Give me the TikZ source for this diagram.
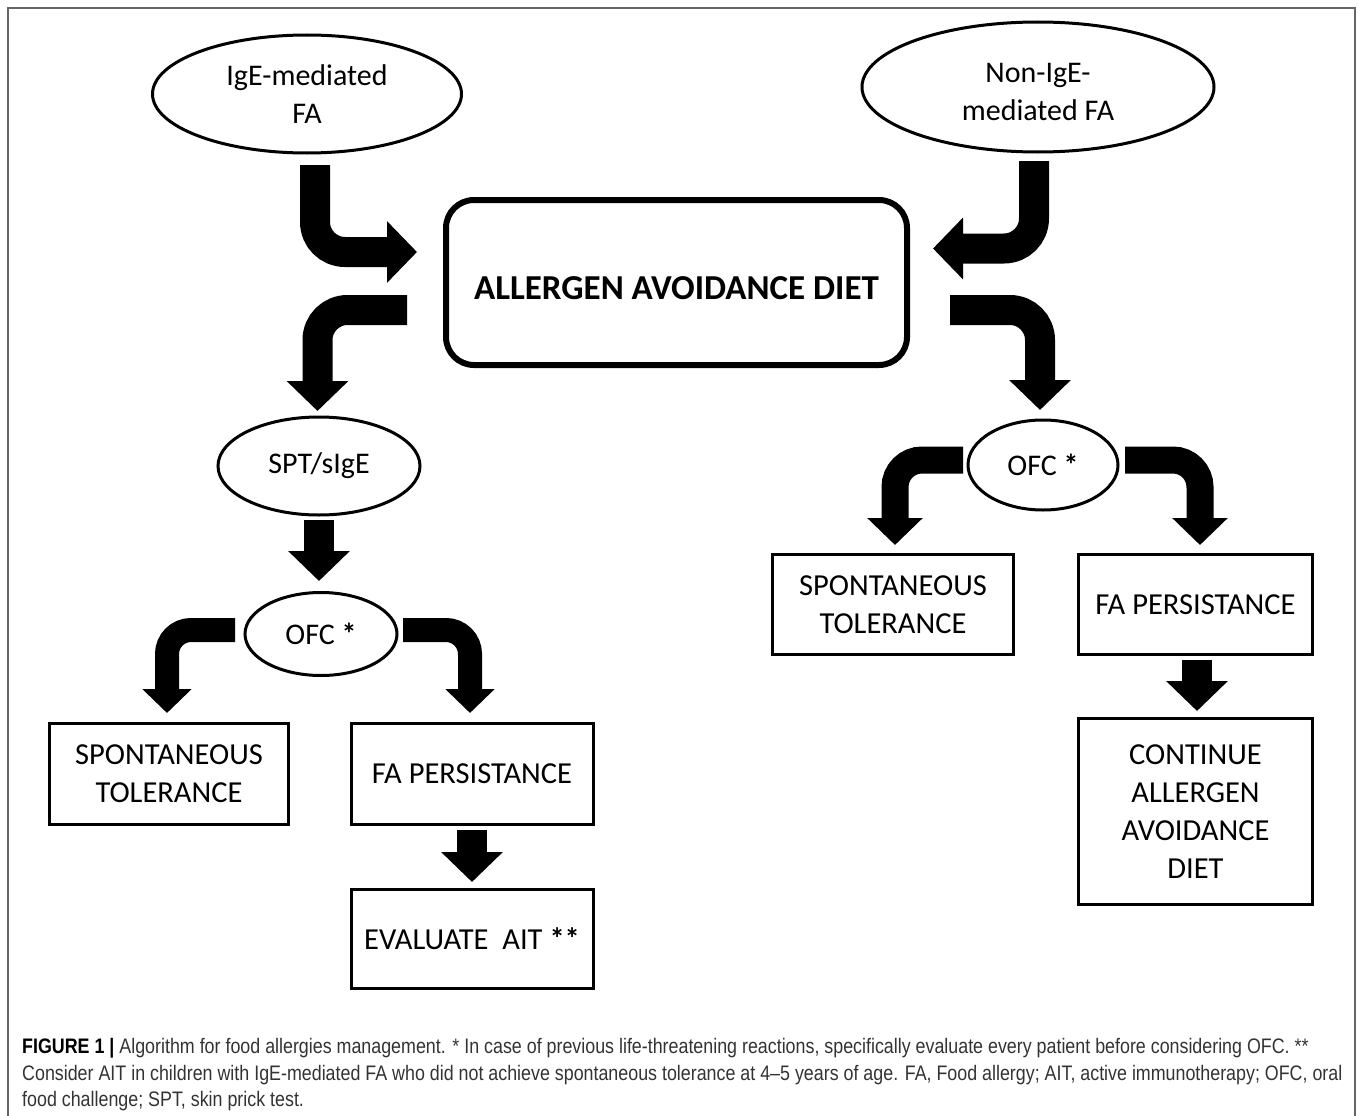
\documentclass[tikz,border=0pt]{standalone}
\usepackage{fontspec}
\setmainfont{Carlito}
\newfontfamily\capfont[FakeStretch=0.85]{Liberation Sans}
\usetikzlibrary{shapes.geometric,arrows.meta}
\begin{document}
\begin{tikzpicture}[x=1pt,y=-1pt,
 ellnode/.style={draw,ellipse,line width=3pt,inner sep=0pt,align=center,font=\fontsize{30}{38}\selectfont},
 boxnode/.style={draw,rectangle,line width=3pt,inner sep=0pt,align=center,font=\fontsize{30.5}{38}\selectfont},
 bigarrow/.style={line width=30pt,-{Triangle[length=30pt,width=60pt]},rounded corners=30pt},
 midarrow/.style={line width=27pt,-{Triangle[length=27pt,width=54pt]},rounded corners=27pt},
 smallarrow/.style={line width=24pt,-{Triangle[length=24pt,width=48pt]},rounded corners=24pt},
 capline/.style={anchor=base west,inner sep=0pt,font=\capfont\fontsize{21}{26}\selectfont,text=black!80}]
\useasboundingbox (0,0) rectangle (1358,1116);
\draw[black!60, line width=2pt] (8,1116) -- (8,8) -- (1355,8) -- (1355,1116);

% nodes
\node[ellnode,minimum width=309pt,minimum height=118pt] (ige) at (307,94) {IgE-mediated\\FA};
\node[ellnode,minimum width=352pt,minimum height=130pt,
      label={[align=center,font=\fontsize{30}{38}\selectfont,yshift=-5pt]center:Non-IgE-\\mediated FA}] (nonige) at (1038,87) {};
\node[draw,rounded corners=28pt,line width=6pt,minimum width=461pt,minimum height=165pt,inner sep=0pt,
      text height=34pt,text depth=0pt,
      font=\fontsize{35}{40}\selectfont\bfseries] (diet) at (676.5,282.5) {ALLERGEN AVOIDANCE DIET};
\node[ellnode,minimum width=202pt,minimum height=98pt] (spt) at (319,466) {SPT/sIgE};
\node[ellnode,minimum width=152pt,minimum height=83pt] (ofcL) at (321,634) {OFC \textbf{*}};
\node[ellnode,minimum width=150pt,minimum height=90pt] (ofcR) at (1043,465) {OFC \textbf{*}};
\node[boxnode,minimum width=239pt,minimum height=101pt] (spontL) at (169,774) {SPONTANEOUS\\TOLERANCE};
\node[boxnode,minimum width=242pt,minimum height=101pt] (faL) at (472,774) {FA PERSISTANCE};
\node[boxnode,minimum width=242pt,minimum height=99pt] (evalL) at (472,939) {EVALUATE~ AIT \textbf{**}};
\node[boxnode,minimum width=241pt,minimum height=100pt] (spontR) at (893,604.5) {SPONTANEOUS\\TOLERANCE};
\node[boxnode,minimum width=234pt,minimum height=100pt] (faR) at (1195.5,604.5) {FA PERSISTANCE};
\node[boxnode,minimum width=234pt,minimum height=186pt] (contR) at (1195.5,811.5) {CONTINUE\\ALLERGEN\\AVOIDANCE\\DIET};

% connector end points
\coordinate (a1s) at (315,165);   \coordinate (a1e) at (417,252);
\coordinate (a2s) at (1034,161);  \coordinate (a2e) at (933,248.5);
\coordinate (a3s) at (407,310);   \coordinate (a3e) at (317.5,411);
\coordinate (a4s) at (950,310);   \coordinate (a4e) at (1040,410);
\coordinate (a5s) at (319,520);   \coordinate (a5e) at (319,581);
\coordinate (a6s) at (235,630);   \coordinate (a6e) at (167,713);
\coordinate (a7s) at (403,630);   \coordinate (a7e) at (470,713);
\coordinate (a8s) at (472,830);   \coordinate (a8e) at (472,882);
\coordinate (a9s) at (963,460);   \coordinate (a9e) at (895,545);
\coordinate (a10s) at (1125,460); \coordinate (a10e) at (1200,545);
\coordinate (a11s) at (1197,660); \coordinate (a11e) at (1197,711);

\draw[bigarrow] (a1s) |- (a1e);
\draw[bigarrow] (a2s) |- (a2e);
\draw[bigarrow] (a3s) -| (a3e);
\draw[bigarrow] (a4s) -| (a4e);
\draw[bigarrow] (a5s) -- (a5e);
\draw[smallarrow] (a6s) -| (a6e);
\draw[smallarrow] (a7s) -| (a7e);
\draw[bigarrow] (a8s) -- (a8e);
\draw[midarrow] (a9s) -| (a9e);
\draw[midarrow] (a10s) -| (a10e);
\draw[bigarrow] (a11s) -- (a11e);

% caption
\node[capline] (cap1) at (22,1053) {\textcolor{black}{\textbf{FIGURE 1 |}} Algorithm for food allergies management. * In case of previous life-threatening reactions, specifically evaluate every patient before considering OFC. **};
\node[capline] (cap2) at (22,1080) {Consider AIT in children with IgE-mediated FA who did not achieve spontaneous tolerance at 4–5 years of age. FA, Food allergy; AIT, active immunotherapy; OFC, oral};
\node[capline] (cap3) at (22,1106) {food challenge; SPT, skin prick test.};
\end{tikzpicture}
\end{document}
